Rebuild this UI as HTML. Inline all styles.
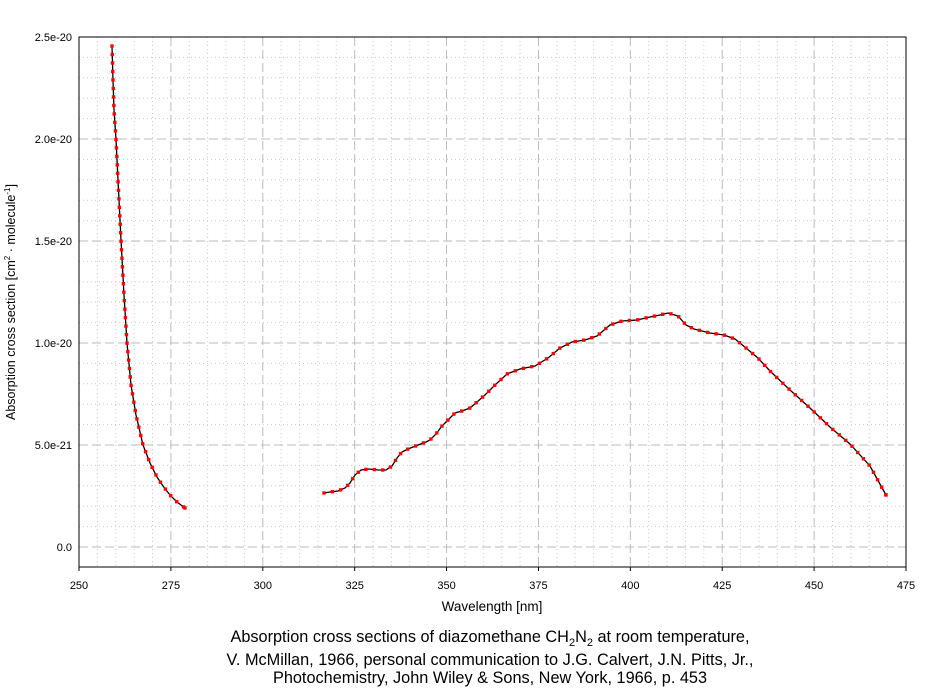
<!DOCTYPE html>
<html><head><meta charset="utf-8"><style>
body{margin:0;background:#fff;}
svg text{font-family:"Liberation Sans",sans-serif;}
</style></head><body>
<svg id="s" width="944" height="689" xmlns="http://www.w3.org/2000/svg">
<g id="grid"></g>
<rect x="79" y="37" width="827" height="530" fill="none" stroke="#000" stroke-width="1"/>
<g id="lbl" font-size="11" fill="#000"></g>
<g id="data"></g>
<text x="492" y="611" font-size="13.5" text-anchor="middle">Wavelength [nm]</text>
<text transform="translate(15,302) rotate(-90)" font-size="12.5" text-anchor="middle">Absorption cross section [cm<tspan font-size="8" dy="-5">2</tspan><tspan dy="5"> · molecule</tspan><tspan font-size="8" dy="-5">-1</tspan><tspan dy="5">]</tspan></text>
<text x="490" y="642" font-size="16.3" text-anchor="middle">Absorption cross sections of diazomethane CH<tspan font-size="11" dy="4">2</tspan><tspan dy="-4">N</tspan><tspan font-size="11" dy="4">2</tspan><tspan dy="-4"> at room temperature,</tspan></text>
<text x="490" y="665" font-size="16.3" text-anchor="middle">V. McMillan, 1966, personal communication to J.G. Calvert, J.N. Pitts, Jr.,</text>
<text x="490" y="683" font-size="16.3" text-anchor="middle">Photochemistry, John Wiley &amp; Sons, New York, 1966, p. 453</text>
</svg>
<script>
var NS="http://www.w3.org/2000/svg";
function el(p,t,a){var e=document.createElementNS(NS,t);for(var k in a)e.setAttribute(k,a[k]);p.appendChild(e);return e;}
var g=document.getElementById('grid'),L=document.getElementById('lbl'),D=document.getElementById('data');
function X(w){return 79+(w-250)*827/225;}
function Y(v){return 547-v*204;}
for(var w=255;w<475;w+=5){var x=X(w);var maj=(w%25==0);
 el(g,'line',{x1:x,y1:37,x2:x,y2:567,stroke:maj?'#bbb':'#ccc','stroke-width':1,'stroke-dasharray':maj?'9,4':'1,3'});}
for(var i=0;i<=25;i++){var v=i/10;var y=Y(v);var maj=(i%5==0);if(y<=38)continue;
 el(g,'line',{x1:79,y1:y,x2:906,y2:y,stroke:maj?'#bbb':'#ccc','stroke-width':1,'stroke-dasharray':maj?'9,4':'1,3'});}
for(var w=250;w<=475;w+=25){var t=el(L,'text',{x:X(w),y:589,'text-anchor':'middle'});t.textContent=w;
 el(L,'line',{x1:X(w),y1:567,x2:X(w),y2:571,stroke:'#000'});}
var yl=[['0.0',0],['5.0e-21',0.5],['1.0e-20',1],['1.5e-20',1.5],['2.0e-20',2],['2.5e-20',2.5]];
yl.forEach(function(a){var t=el(L,'text',{x:72,y:Y(a[1])+4,'text-anchor':'end'});t.textContent=a[0];});
var c1=[[112,46],[113,80],[114,110],[116,139],[118,180],[121,240],[124,295],[127,343],[131,385],[136,415],[143,445],[150,463],[157,477],[163,486],[170,495],[177,502],[185,508]];
var c2=[[324,493],[330,492],[338,491],[345,488],[350,483],[355,475],[361,470],[369,469],[378,470],[386,470],[392,466],[397,458],[402,452],[408,449],[418,445],[426,442],[430,440],[436,434],[442,426],[447,421],[455,413],[462,411],[470,408],[477,402],[485,395],[495,385],[507,374],[520,369],[535,366],[548,358],[560,348],[572,342],[585,340],[597,336],[610,325],[622,321],[637,320],[650,317],[660,315],[668,313],[678,316],[686,325],[694,329],[710,333],[724,335],[735,339],[746,348],[758,358],[770,371],[790,390],[810,408],[830,427],[850,444],[870,466],[886,495]];
function draw(c){
 el(D,'polyline',{points:c.map(function(p){return p.join(',')}).join(' '),fill:'none',stroke:'#000','stroke-width':1.3});
 var acc=0,step=8.5;
 function dot(x,y){el(D,'rect',{x:x-1.7,y:y-1.7,width:3.4,height:3.4,fill:'#f00'});}
 dot(c[0][0],c[0][1]);
 for(var i=1;i<c.length;i++){var dx=c[i][0]-c[i-1][0],dy=c[i][1]-c[i-1][1],len=Math.hypot(dx,dy);
  var pos=step-acc;while(pos<=len){dot(c[i-1][0]+dx*pos/len,c[i-1][1]+dy*pos/len);pos+=step;}
  acc=(acc+len)%step;}
 var l=c[c.length-1];dot(l[0],l[1]);
}
draw(c1);draw(c2);
</script>
</body></html>
